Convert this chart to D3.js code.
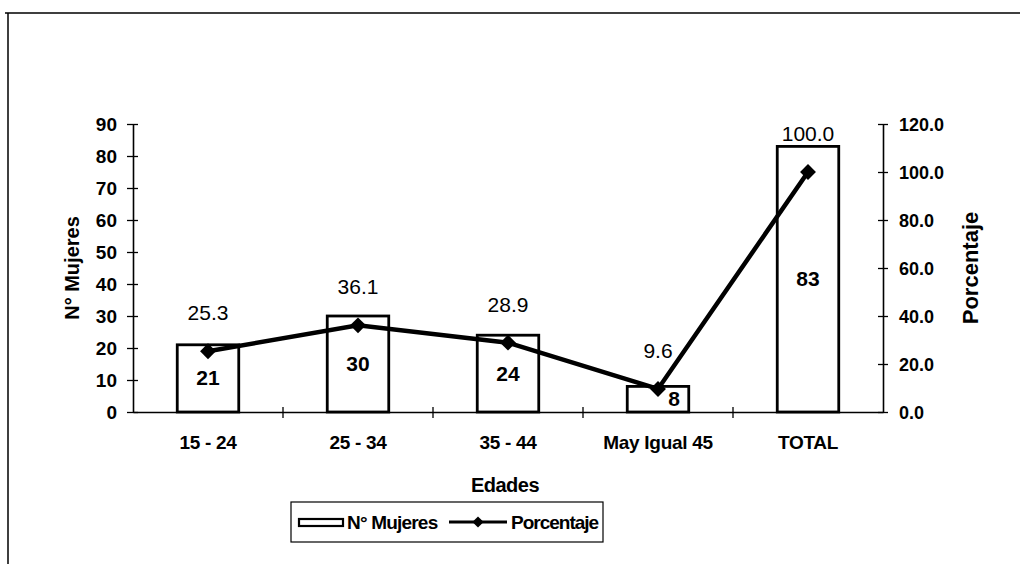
<!DOCTYPE html>
<html>
<head>
<meta charset="utf-8">
<script src="https://cdn.jsdelivr.net/npm/d3@7"></script>
<style>
  body { margin: 0; background: #fff; }
  svg text { font-family: "Liberation Sans", Arial, sans-serif; fill: #000; }
</style>
</head>
<body>
<div id="chart"></div>
<script>
// data
let categories = ["15 - 24", "25 - 34", "35 - 44", "May Igual 45", "TOTAL"];
let mujeres = [21, 30, 24, 8, 83];
let porcentaje = [25.3, 36.1, 28.9, 9.6, 100.0];
let leftTicks = [0, 10, 20, 30, 40, 50, 60, 70, 80, 90];
let rightTicks = [0, 20, 40, 60, 80, 100, 120];

let W = 1020, H = 564;
let plot = { left: 133, right: 883, top: 124, bottom: 412 };

let svg = d3.select("#chart").append("svg")
    .attr("width", W)
    .attr("height", H);

// outer frame (only top and left edges show in the scan)
svg.append("path")
    .attr("d", "M5,13H1020M8,13V564")
    .attr("fill", "none")
    .attr("stroke", "#000")
    .attr("stroke-width", 1.5);

let x = d3.scaleBand()
    .domain(categories)
    .range([plot.left, plot.right])
    .padding(0);

let yL = d3.scaleLinear().domain([0, 90]).range([plot.bottom, plot.top]);
let yR = d3.scaleLinear().domain([0, 120]).range([plot.bottom, plot.top]);

let barW = x.bandwidth() * 0.41;

// bars
svg.selectAll("rect.bar")
    .data(mujeres)
    .enter()
    .append("rect")
    .attr("class", "bar")
    .attr("x", (d, i) => x(categories[i]) + x.bandwidth() / 2 - barW / 2)
    .attr("y", d => yL(d))
    .attr("width", barW)
    .attr("height", d => plot.bottom - yL(d))
    .attr("fill", "#fff")
    .attr("stroke", "#000")
    .attr("stroke-width", 2.8);

// left axis
let gL = svg.append("g")
    .attr("transform", "translate(" + plot.left + ",0)")
    .call(d3.axisLeft(yL).tickValues(leftTicks).tickSize(6).tickSizeOuter(0).tickPadding(10));
gL.selectAll(".tick line").attr("x1", -6).attr("x2", 5);
gL.selectAll("text")
    .style("font-size", "19px")
    .style("font-weight", "bold")
    .attr("dy", "0.36em");

// right axis
let gR = svg.append("g")
    .attr("transform", "translate(" + plot.right + ",0)")
    .call(d3.axisRight(yR).tickValues(rightTicks).tickFormat(d3.format(".1f")).tickSize(6).tickSizeOuter(0).tickPadding(10));
gR.selectAll(".tick line").attr("x1", -5).attr("x2", 5);
gR.selectAll("text")
    .style("font-size", "18px")
    .style("font-weight", "bold")
    .attr("dy", "0.36em");

svg.selectAll(".domain").attr("stroke-width", 1.6);
svg.selectAll(".tick line").attr("stroke-width", 1.3);

// category axis
let gX = svg.append("g")
    .attr("transform", "translate(0," + plot.bottom + ")")
    .call(d3.axisBottom(x).tickSize(0).tickPadding(24));
gX.select(".domain").attr("stroke-width", 1.6);
gX.selectAll("text")
    .style("font-size", "19px")
    .style("font-weight", "bold")
    .style("letter-spacing", "-0.3px");

// boundary ticks between categories
svg.selectAll("line.cat")
    .data(categories.slice(1))
    .enter()
    .append("line")
    .attr("class", "cat")
    .attr("x1", d => x(d))
    .attr("x2", d => x(d))
    .attr("y1", plot.bottom - 5)
    .attr("y2", plot.bottom + 6)
    .attr("stroke", "#000")
    .attr("stroke-width", 1.3);

// percentage line
let pts = porcentaje.map((v, i) => ({ x: x(categories[i]) + x.bandwidth() / 2, y: yR(v), v: v }));

svg.append("path")
    .datum(pts)
    .attr("fill", "none")
    .attr("stroke", "#000")
    .attr("stroke-width", 4.5)
    .attr("d", d3.line().x(d => d.x).y(d => d.y));

svg.selectAll("path.marker")
    .data(pts)
    .enter()
    .append("path")
    .attr("class", "marker")
    .attr("transform", d => "translate(" + d.x + "," + d.y + ")")
    .attr("d", d3.symbol().type(d3.symbolDiamond2).size(160))
    .attr("fill", "#000");

// percentage labels
svg.selectAll("text.pct")
    .data(pts)
    .enter()
    .append("text")
    .attr("class", "pct")
    .attr("x", d => d.x)
    .attr("y", d => d.y - 31)
    .attr("text-anchor", "middle")
    .style("font-size", "21px")
    .style("font-weight", "500")
    .text(d => d3.format(".1f")(d.v));

// count labels, inside the bars
svg.selectAll("text.cnt")
    .data(mujeres)
    .enter()
    .append("text")
    .attr("class", "cnt")
    .attr("x", (d, i) => x(categories[i]) + x.bandwidth() / 2 + (i === 3 ? 16 : 0))
    .attr("y", d => (yL(d) + plot.bottom) / 2 + 7)
    .attr("text-anchor", "middle")
    .style("font-size", "21px")
    .style("font-weight", "bold")
    .text(d => d);

// axis titles
svg.append("text")
    .attr("transform", "translate(79," + (plot.top + plot.bottom) / 2 + ") rotate(-90)")
    .attr("text-anchor", "middle")
    .style("font-size", "20px")
    .style("font-weight", "bold")
    .text("N° Mujeres");

svg.append("text")
    .attr("transform", "translate(978," + (plot.top + plot.bottom) / 2 + ") rotate(-90)")
    .attr("text-anchor", "middle")
    .style("font-size", "22px")
    .style("font-weight", "bold")
    .text("Porcentaje");

svg.append("text")
    .attr("x", (plot.left + plot.right) / 2 - 3)
    .attr("y", 492)
    .attr("text-anchor", "middle")
    .style("font-size", "20px")
    .style("font-weight", "bold")
    .style("letter-spacing", "-0.5px")
    .text("Edades");

// legend
let lg = svg.append("g").attr("transform", "translate(291,502)");
lg.append("rect")
    .attr("width", 312).attr("height", 40)
    .attr("fill", "#fff").attr("stroke", "#000").attr("stroke-width", 1.2);
lg.append("rect")
    .attr("x", 8).attr("y", 17).attr("width", 44).attr("height", 7)
    .attr("fill", "#fff").attr("stroke", "#000").attr("stroke-width", 2.2);
lg.append("text")
    .attr("x", 56).attr("y", 27)
    .style("font-size", "19px")
    .style("font-weight", "bold")
    .style("letter-spacing", "-0.8px")
    .text("N° Mujeres");
lg.append("line")
    .attr("x1", 158).attr("x2", 216).attr("y1", 20).attr("y2", 20)
    .attr("stroke", "#000").attr("stroke-width", 3);
lg.append("path")
    .attr("transform", "translate(187,20)")
    .attr("d", d3.symbol().type(d3.symbolDiamond2).size(80))
    .attr("fill", "#000");
lg.append("text")
    .attr("x", 220).attr("y", 27)
    .style("font-size", "19px")
    .style("font-weight", "bold")
    .style("letter-spacing", "-1px")
    .text("Porcentaje");
</script>
</body>
</html>
